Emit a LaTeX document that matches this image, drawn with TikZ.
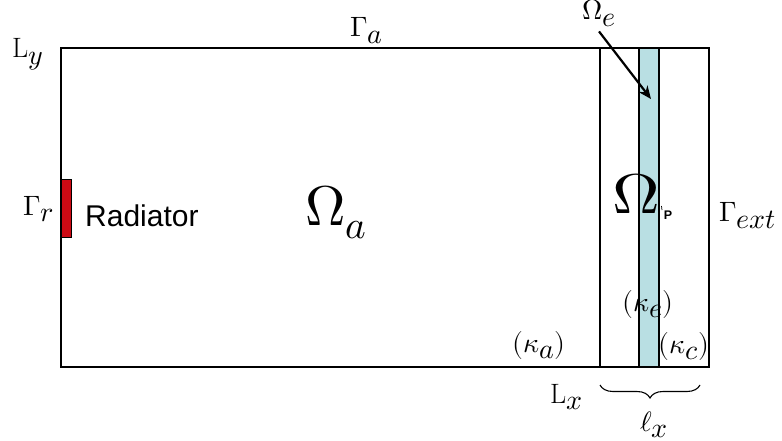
\documentclass[tikz,border=0pt]{standalone}
\usepackage{graphicx}
\usepackage{fontspec}
\usepackage{unicode-math}
\setmathfont{Latin Modern Math}
\newfontfamily\arialfont{Liberation Sans}
\usetikzlibrary{decorations.pathreplacing,arrows.meta}
\definecolor{stripblue}{HTML}{B9DFE3}
\definecolor{radred}{HTML}{CC0A14}
\newcommand\bsub[1]{_{\textstyle #1}}
\tikzset{
  lbl/.style={inner sep=0pt, anchor=base west, font=\fontsize{28}{32}\selectfont},
  biglbl/.style={inner sep=0pt, anchor=base west, font=\fontsize{56}{60}\selectfont},
  wall/.style={draw=black, line width=2pt},
}
\begin{document}
\begin{tikzpicture}[x=1pt,y=-1pt]
\useasboundingbox (0,0) rectangle (782,441);
\fill[white] (0,0) rectangle (782,441);
% strip
\node[draw=black, line width=1.5pt, fill=stripblue, minimum width=20pt, minimum height=319pt, inner sep=0pt] (strip) at (649,207.5) {};
% domain
\node[wall, minimum width=648pt, minimum height=319pt, inner sep=0pt] (dom) at (385,207.5) {};
\draw[wall] (600,48) coordinate (itop) -- (600,367) coordinate (ibot);
% radiator
\node[draw=black, line width=0.8pt, fill=radred, minimum width=10pt, minimum height=58pt, inner sep=0pt] (rad) at (66,208) {};
% labels
\node[lbl] (Ga) at (350,37) {$\Gamma\bsub{a}$};
\node[lbl] (Ly) at (12,58) {$\mathrm{L}\bsub{y}$};
\node[lbl] (Gr) at (23,215) {$\Gamma\bsub{r}$};
\node[inner sep=0pt, anchor=base west, font=\arialfont\fontsize{30}{34}\selectfont] (radtxt) at (85,226) {Radiator};
\node[biglbl] (Oa) at (305,225) {$\Omega_a$};
\node[biglbl] (Op) at (612,213) {\scalebox{1.18}[1]{$\Omega$}};
\node[inner sep=0pt, font=\arialfont\bfseries\fontsize{12.5}{14}\selectfont] (P) at (668,215.5) {P};
\draw[line width=0.7pt] (661.5,206) coordinate (tk1) -- (662,210) coordinate (tk2);
\node[lbl] (Gext) at (719,221) {$\Gamma\bsub{ext}$};
\node[lbl] (Oe) at (582,20) {$\Omega\bsub{e}$};
\coordinate (Oetip) at (651,99);
\draw[line width=2.2pt, -{Stealth[length=13pt,width=11pt]}] (Oe.south west) ++(17,4) coordinate (Oestart) -- (Oetip);
\node[lbl] (ke) at (622,311) {$(\kappa\bsub{e})$};
\node[lbl] (ka) at (512,352) {$(\kappa\bsub{a})$};
\node[lbl] (kc) at (658,353) {$(\kappa\bsub{c})$};
\node[lbl] (Lx) at (550,403) {$\mathrm{L}\bsub{x}$};
\coordinate (bl) at (600,385);
\coordinate (br) at (700,385);
\draw[line width=1.1pt, decorate, decoration={brace, mirror, amplitude=13pt}] (bl) -- (br);
\node[lbl] (lx) at (640,431) {$\ell\bsub{x}$};
\end{tikzpicture}
\end{document}
